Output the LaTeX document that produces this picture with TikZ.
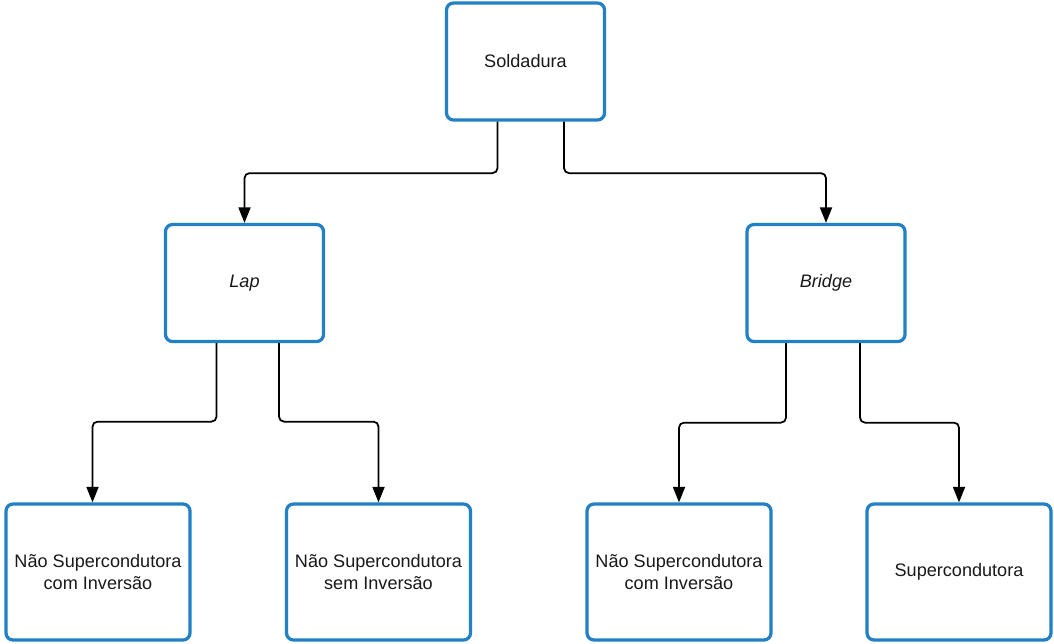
\documentclass[tikz,border=0pt]{standalone}
\usepackage{fontspec}
\setmainfont{Liberation Sans}
\usetikzlibrary{arrows.meta}

\definecolor{boxblue}{RGB}{34,128,196}

\begin{document}
\begin{tikzpicture}[
        font=\fontsize{10.3}{13}\selectfont,
        text centered,
        box/.style={
            rectangle,
            rounded corners=1.4mm,
            draw=boxblue,
            line width=0.065cm,
            fill=white,
            text=black!90,
            align=center,
        },
        upper/.style={
            minimum width=3.16cm,
            minimum height=2.34cm,
        },
        lower/.style={
            minimum width=3.68cm,
            minimum height=2.72cm,
        },
        conn/.style={
            draw=black,
            line width=1pt,
            rounded corners=1mm,
            -{Triangle[length=3.1mm,width=2.4mm]},
        },
    ]
        \useasboundingbox (0,0) rectangle (21.08,-12.86);

        \node [box, upper] (sold) at (10.51,-1.23) {Soldadura};

        \node [box, upper] (lap) at (4.89,-5.66) {\itshape Lap};
        \node [box, upper] (bridge) at (16.52,-5.66) {\itshape Bridge};

        \node [box, lower] (lapcom) at (1.96,-11.44) {Não Supercondutora\\com Inversão};
        \node [box, lower] (lapsem) at (7.57,-11.44) {Não Supercondutora\\sem Inversão};
        \node [box, lower] (brcom) at (13.58,-11.44) {Não Supercondutora\\com Inversão};
        \node [box, lower] (brsup) at (19.18,-11.44) {Supercondutora};

        \draw [conn] ([xshift=-0.56cm]sold.south) -- ++(0,-1.03) -| (lap.north);
        \draw [conn] ([xshift=0.77cm]sold.south) -- ++(0,-1.03) -| (bridge.north);

        \draw [conn] ([xshift=-0.56cm]lap.south) -- ++(0,-1.57) -| ([xshift=-0.11cm]lapcom.north);
        \draw [conn] ([xshift=0.69cm]lap.south) -- ++(0,-1.57) -| (lapsem.north);

        \draw [conn] ([xshift=-0.8cm]bridge.south) -- ++(0,-1.59) -| (brcom.north);
        \draw [conn] ([xshift=0.68cm]bridge.south) -- ++(0,-1.59) -| (brsup.north);
    \end{tikzpicture}
\end{document}
